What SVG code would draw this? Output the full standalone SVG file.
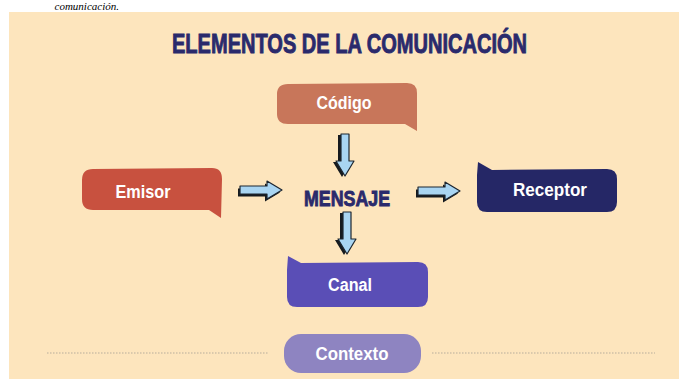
<svg xmlns="http://www.w3.org/2000/svg" xmlns:xlink="http://www.w3.org/1999/xlink" width="679" height="383" viewBox="0 0 679 383">
<defs>
<style>
.lbl{font-family:"Liberation Sans","DejaVu Sans",sans-serif;font-weight:bold;font-size:18px;fill:#ffffff;text-anchor:middle;dominant-baseline:central}
.navy{font-family:"Liberation Sans","DejaVu Sans",sans-serif;font-weight:bold;fill:#2a2a6c;stroke:#2a2a6c;stroke-width:0.9;text-anchor:middle}
.dots{stroke:#b8ad9c;stroke-width:1.2;stroke-dasharray:1.5 1.5}
.arr{fill:#a9d5f2;stroke:#1d2630;stroke-width:1.2;stroke-linejoin:round}
.arrs{fill:#161a1e}
</style>
<path id="ar" d="M0,-4 L27,-4 L27,-9 L42,0 L27,9 L27,4 L0,4 Z"/>
</defs>
<rect x="0" y="0" width="679" height="383" fill="#ffffff"/>
<text x="119" y="10" font-family="'Liberation Serif',serif" font-style="italic" font-size="11" text-anchor="end" fill="#000">comunicación.</text>
<rect x="9" y="12" width="670" height="367" fill="#fde5bd"/>
<text class="navy" x="349.5" y="53" font-size="27" textLength="355" lengthAdjust="spacingAndGlyphs">ELEMENTOS DE LA COMUNICACIÓN</text>

<g id="connectors">
<use xlink:href="#ar" class="arrs" transform="translate(238,192.5)"/>
<use xlink:href="#ar" class="arr" transform="translate(240,190)"/>
<use xlink:href="#ar" class="arrs" transform="translate(416,193.5)"/>
<use xlink:href="#ar" class="arr" transform="translate(418,191)"/>
<use xlink:href="#ar" class="arrs" transform="translate(342,135) rotate(90)"/>
<use xlink:href="#ar" class="arr" transform="translate(345,134) rotate(90)"/>
<use xlink:href="#ar" class="arrs" transform="translate(344,213) rotate(90)"/>
<use xlink:href="#ar" class="arr" transform="translate(347,212) rotate(90)"/>
<line class="dots" x1="47" y1="353" x2="268" y2="353"/>
<line class="dots" x1="432" y1="353" x2="655" y2="353"/>
</g>

<g id="emisor">
<path d="M93,169 L212,168 Q222,168 222,179 L221,218 L209,210 L93,210 Q82,210 82,199 L82,180 Q82,169 93,169 Z" fill="#c8513f"/>
<text class="lbl" x="143" y="192" textLength="55" lengthAdjust="spacingAndGlyphs">Emisor</text>
</g>

<g id="codigo">
<path d="M288,84 L407,83 Q417,83 417,93 L417,131 L405,124 L288,124 Q277,124 277,114 L277,94 Q277,84 288,84 Z" fill="#c8765a"/>
<text class="lbl" x="344" y="103" textLength="55" lengthAdjust="spacingAndGlyphs">Código</text>
</g>

<g id="mensaje">
<text class="navy" x="347" y="206" font-size="22" textLength="86" lengthAdjust="spacingAndGlyphs">MENSAJE</text>
</g>

<g id="receptor">
<path d="M478,162 L492,170 L607,169 Q617,169 617,179 L617,202 Q617,212 607,212 L487,212 Q477,212 477,202 L477,175 Z" fill="#252766"/>
<text class="lbl" x="550" y="190" textLength="74" lengthAdjust="spacingAndGlyphs">Receptor</text>
</g>

<g id="canal">
<path d="M288,256 L301,263 L418,262 Q428,262 428,272 L428,297 Q428,307 418,307 L297,307 Q287,307 287,297 L287,270 Z" fill="#5a4eb6"/>
<text class="lbl" x="350" y="285" textLength="44" lengthAdjust="spacingAndGlyphs">Canal</text>
</g>

<g id="contexto">
<rect x="284" y="334" width="137" height="39" rx="17" fill="#8e84c1"/>
<text class="lbl" x="352" y="354" textLength="73" lengthAdjust="spacingAndGlyphs">Contexto</text>
</g>
</svg>
